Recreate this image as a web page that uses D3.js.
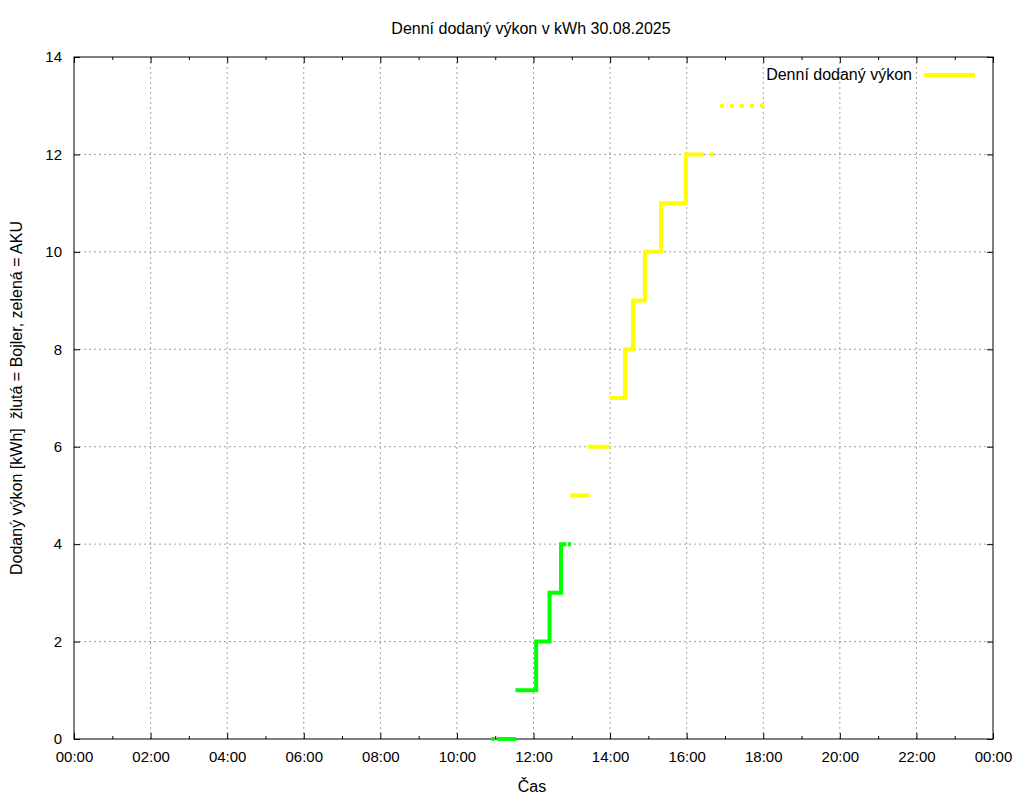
<!DOCTYPE html>
<html><head><meta charset="utf-8">
<script src="https://cdn.jsdelivr.net/npm/d3@7"></script>
<style>body{margin:0;background:#fff}text{font-family:"Liberation Sans",Arial,sans-serif;font-size:16px;fill:#000;white-space:pre}</style>
</head><body><svg id="c" width="1024" height="800"></svg>
<script>
const title = "Denní dodaný výkon v kWh 30.08.2025";
const xLabel = "Čas";
const yLabel = "Dodaný výkon [kWh]  žlutá = Bojler, zelená = AKU";
const legendLabel = "Denní dodaný výkon";
const xTickHours = [0,2,4,6,8,10,12,14,16,18,20,22,24];
const xTickLabels = ["00:00","02:00","04:00","06:00","08:00","10:00","12:00","14:00","16:00","18:00","20:00","22:00","00:00"];
const yTicks = [0,2,4,6,8,10,12,14];
// green (AKU) runs: [hour, kWh] step-after
const greenRuns = [
  [[10.9,0],[10.98,0]],
  [[11.05,0],[11.55,0]],
  [[11.53,1],[12.07,2],[12.42,3],[12.72,4],[12.86,4]],
  [[12.9,4],[12.98,4]]
];
// yellow (Bojler) runs
const yellowRuns = [
  [[12.95,5],[13.45,5]],
  [[13.42,6],[14.0,6]],
  [[13.97,7],[14.39,8],[14.6,9],[14.91,10],[15.33,11],[15.98,12],[16.35,12]]
];
// dotted yellow pieces
const yellowDotted = [
  [[16.35,12],[16.8,12]],
  [[16.87,13],[18.0,13]]
];
const svg = d3.select("#c");
const L=74,R=993,T=57,B=739;
const x = d3.scaleLinear().domain([0,24]).range([L,R]);
const y = d3.scaleLinear().domain([0,14]).range([B,T]);
const g = svg.append("g");
xTickHours.slice(1,-1).forEach(h=>g.append("line").attr("x1",x(h)).attr("x2",x(h)).attr("y1",T).attr("y2",B).attr("stroke","#a0a0a0").attr("stroke-dasharray","2,3"));
yTicks.slice(1,-1).forEach(v=>g.append("line").attr("x1",L).attr("x2",R).attr("y1",y(v)).attr("y2",y(v)).attr("stroke","#a0a0a0").attr("stroke-dasharray","2,3"));
svg.append("g").attr("transform",`translate(0,${B})`).call(d3.axisBottom(x).tickValues(xTickHours).tickFormat((d,i)=>xTickLabels[i]).tickSize(-6).tickPadding(12));
svg.append("g").attr("transform",`translate(0,${B})`).call(d3.axisBottom(x).tickValues(d3.range(1,24,2)).tickFormat("").tickSize(-3));
svg.append("g").attr("transform",`translate(0,${T})`).call(d3.axisTop(x).tickValues(xTickHours).tickFormat("").tickSize(-6));
svg.append("g").attr("transform",`translate(0,${T})`).call(d3.axisTop(x).tickValues(d3.range(1,24,2)).tickFormat("").tickSize(-3));
svg.append("g").attr("transform",`translate(${L},0)`).call(d3.axisLeft(y).tickValues(yTicks).tickSize(-6).tickPadding(12));
svg.append("g").attr("transform",`translate(${R},0)`).call(d3.axisRight(y).tickValues(yTicks).tickFormat("").tickSize(-6));
svg.selectAll(".domain").remove();
svg.selectAll(".tick text").style("font-size","15px").style("font-family","Liberation Sans, Arial");
svg.append("rect").attr("x",L).attr("y",T).attr("width",R-L).attr("height",B-T).attr("fill","none").attr("stroke","#000");
const line = d3.line().x(d=>x(d[0])).y(d=>y(d[1])).curve(d3.curveStepAfter);
greenRuns.forEach(r=>svg.append("path").attr("d",line(r)).attr("fill","none").attr("stroke","#00ff00").attr("stroke-width",4));
yellowRuns.forEach(r=>svg.append("path").attr("d",line(r)).attr("fill","none").attr("stroke","#ffff00").attr("stroke-width",4));
yellowDotted.forEach(r=>svg.append("path").attr("d",line(r)).attr("fill","none").attr("stroke","#ffff00").attr("stroke-width",4).attr("stroke-dasharray","4,6"));
svg.append("line").attr("x1",924).attr("x2",975).attr("y1",75).attr("y2",75).attr("stroke","#ffff00").attr("stroke-width",4);
svg.append("text").attr("x",912).attr("y",80).attr("text-anchor","end").text(legendLabel);
svg.append("text").attr("x",531).attr("y",34).attr("text-anchor","middle").text(title);
svg.append("text").attr("x",532).attr("y",792).attr("text-anchor","middle").text(xLabel);
svg.append("text").attr("transform","translate(22,398) rotate(-90)").attr("text-anchor","middle").text(yLabel);
</script></body></html>
